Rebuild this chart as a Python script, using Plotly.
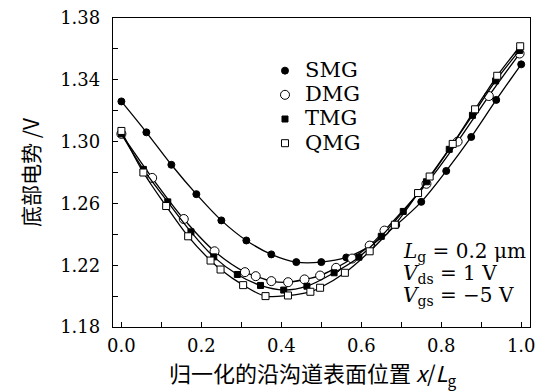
import plotly.graph_objects as go

# SMG
smg_x = [0.0, 0.0625, 0.125, 0.1875, 0.25, 0.3125, 0.375, 0.4375, 0.5, 0.5625, 0.625, 0.6875, 0.75, 0.8125, 0.875, 0.9375, 1.0]
smg_y = [1.326, 1.306, 1.285, 1.266, 1.249, 1.236, 1.227, 1.222, 1.222, 1.225, 1.233, 1.246, 1.261, 1.281, 1.303, 1.327, 1.350]
# DMG
dmg_x = [0.0, 0.077, 0.156, 0.233, 0.309, 0.336, 0.375, 0.417, 0.458, 0.497, 0.537, 0.577, 0.621, 0.658, 0.763, 0.841, 0.919, 0.996]
dmg_y = [1.305, 1.2765, 1.2499, 1.229, 1.2155, 1.2129, 1.2097, 1.209, 1.2108, 1.2133, 1.2183, 1.2243, 1.2327, 1.2424, 1.2727, 1.300, 1.3295, 1.357]
# TMG
tmg_x = [0.0, 0.055, 0.116, 0.174, 0.231, 0.29, 0.348, 0.406, 0.464, 0.532, 0.594, 0.65, 0.705, 0.763, 0.82, 0.878, 0.936, 0.996]
tmg_y = [1.305, 1.282, 1.261, 1.2416, 1.2254, 1.214, 1.2069, 1.2039, 1.2064, 1.2151, 1.2252, 1.2387, 1.2548, 1.274, 1.295, 1.317, 1.3393, 1.359]
# QMG
qmg_x = [0.0, 0.055, 0.112, 0.167, 0.223, 0.248, 0.3045, 0.3605, 0.4166, 0.4727, 0.497, 0.559, 0.621, 0.684, 0.742, 0.771, 0.8287, 0.8846, 0.94, 0.9975]
qmg_y = [1.3069, 1.280, 1.2583, 1.2387, 1.223, 1.2172, 1.2071, 1.200, 1.2004, 1.2028, 1.2054, 1.2151, 1.229, 1.2462, 1.2667, 1.2774, 1.2985, 1.3209, 1.3426, 1.3617]

names = ["SMG", "DMG", "TMG", "QMG"]
xs = [smg_x, dmg_x, tmg_x, qmg_x]
ys = [smg_y, dmg_y, tmg_y, qmg_y]
symbols = ["circle", "circle", "square", "square"]
fills = ["black", "white", "black", "white"]
sizes = [7, 9, 6, 7]

x_ticks = [0.0, 0.2, 0.4, 0.6, 0.8, 1.0]
y_ticks = [1.18, 1.22, 1.26, 1.30, 1.34, 1.38]

annot_lines = ["<i>L</i><sub>g</sub> = 0.2 μm",
               "<i>V</i><sub>ds</sub> = 1 V",
               "<i>V</i><sub>gs</sub> = −5 V"]
x_title = "归一化的沿沟道表面位置 <i>x</i>/<i>L</i><sub>g</sub>"
y_title = "底部电势 /V"

SERIF = "DejaVu Serif"
CJK = "Noto Sans CJK SC"

fig = go.Figure()
for x, y, s, f, sz in zip(xs, ys, symbols, fills, sizes):
    fig.add_trace(go.Scatter(
        x=x, y=y, mode="lines+markers", showlegend=False,
        line=dict(color="black", width=1.3, shape="spline", smoothing=1.0),
        marker=dict(symbol=s, size=sz, color=f, line=dict(color="black", width=1)),
    ))
for n, s, f, sz in zip(names, symbols, fills, sizes):
    fig.add_trace(go.Scatter(
        x=[None], y=[None], mode="markers",
        name=f'<span style="font-size:21px">{n}</span>',
        marker=dict(symbol=s, size=sz, color=f, line=dict(color="black", width=1)),
    ))

fig.update_layout(
    width=540, height=391,
    margin=dict(l=113, r=5, t=18, b=64),
    paper_bgcolor="white", plot_bgcolor="white",
    font=dict(family=SERIF, size=18, color="black"),
    showlegend=True,
    legend=dict(x=0.3645, y=0.885, xref="paper", yref="paper",
                xanchor="left", yanchor="top",
                bgcolor="rgba(0,0,0,0)", font=dict(family=SERIF, size=16.3),
                itemwidth=30, tracegroupgap=0),
    xaxis=dict(range=[-0.021, 1.022], tickvals=x_ticks, ticktext=[f"{v:.1f}" for v in x_ticks],
               ticks="inside", ticklen=5, tickwidth=1, tickcolor="black",
               minor=dict(dtick=0.1, tick0=0, ticks="inside", ticklen=5, tickcolor="black"),
               showline=True, linecolor="black", linewidth=1.3, mirror=True,
               showgrid=False, zeroline=False, ticklabelstandoff=2,
               ticklabeloverflow="allow"),
    yaxis=dict(range=[1.18, 1.38], tickvals=y_ticks, ticktext=[f"{v:.2f}" for v in y_ticks],
               ticks="inside", ticklen=5, tickwidth=1, tickcolor="black",
               minor=dict(dtick=0.02, tick0=1.18, ticks="inside", ticklen=5, tickcolor="black"),
               showline=True, linecolor="black", linewidth=1.3, mirror=True,
               showgrid=False, zeroline=False, ticklabelstandoff=8,
               ticklabeloverflow="allow",
               title=dict(text=y_title, font=dict(family=CJK, size=21), standoff=14)),
)

fig.add_annotation(
    xref="paper", yref="paper", x=0.479, y=-0.15, xanchor="center", yanchor="middle",
    showarrow=False, font=dict(family=CJK, size=22), text=x_title,
)

for txt, yy in zip(annot_lines, [0.243, 0.172, 0.101]):
    fig.add_annotation(
        xref="paper", yref="paper", x=0.69, y=yy, xanchor="left", yanchor="middle",
        align="left", showarrow=False, font=dict(family=SERIF, size=20), text=txt,
    )

fig.write_html("out.html")
